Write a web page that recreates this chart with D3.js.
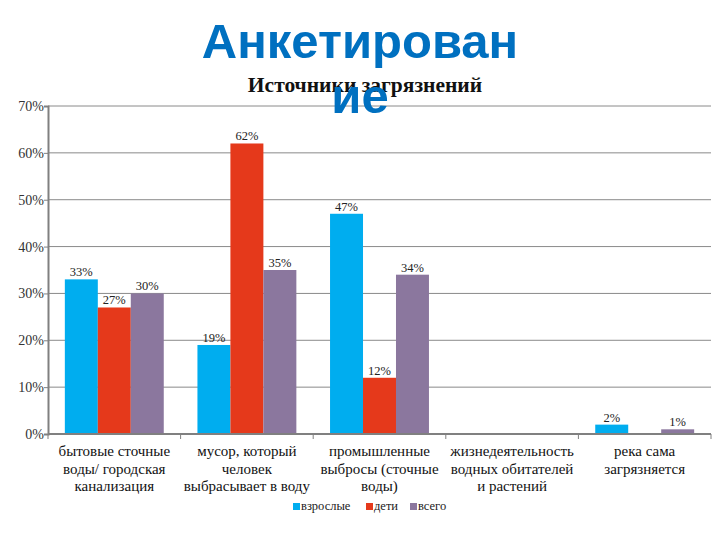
<!DOCTYPE html>
<html><head><meta charset="utf-8">
<script src="https://cdn.jsdelivr.net/npm/d3@7"></script>
<style>body{margin:0;background:#fff} .serif{font-family:"Liberation Serif","Times New Roman","DejaVu Serif",serif}</style>
</head><body>
<svg id="c" width="720" height="540"></svg>
<script>
const categories = [
  ["бытовые сточные","воды/ городская","канализация"],
  ["мусор, который","человек","выбрасывает в воду"],
  ["промышленные","выбросы (сточные","воды)"],
  ["жизнедеятельность","водных обитателей","и растений"],
  ["река сама","загрязняется"]
];
const seriesNames = ["взрослые","дети","всего"];
const adults = [33, 19, 47, 0, 2];
const children = [27, 62, 12, 0, 0];
const total = [30, 35, 34, 0, 1];
const yTicks = [0,10,20,30,40,50,60,70];
const titleLines = ["Анкетирован","ие"];
const chartTitle = "Источники загрязнений";
const colors = ["#00adef","#e5391b","#8b779e"];

const values = [adults, children, total];
const svg = d3.select("#c");
const L = 48, R = 711, T = 106, B = 434;
const catIdx = categories.map((d,i)=>i);
const x0 = d3.scaleBand().domain(catIdx).range([L,R]).padding(0);
const bw = x0.bandwidth();
const x1 = d3.scaleBand().domain(seriesNames).range([bw*0.127, bw*0.873]).padding(0);
const y = d3.scaleLinear().domain([0,70]).range([B,T]);

// gridlines
svg.append("g").selectAll("line").data(yTicks.filter(t=>t>0)).join("line")
  .attr("x1",L).attr("x2",R).attr("y1",d=>y(d)).attr("y2",d=>y(d))
  .attr("stroke","#8a8a8a").attr("stroke-width",1);

// bars
const data = [];
catIdx.forEach(ci=>seriesNames.forEach((s,si)=>data.push({ci,s,si,v:values[si][ci]})));
svg.append("g").selectAll("rect").data(data.filter(d=>d.v>0)).join("rect")
  .attr("x",d=>x0(d.ci)+x1(d.s)).attr("width",x1.bandwidth())
  .attr("y",d=>y(d.v)).attr("height",d=>y(0)-y(d.v))
  .attr("fill",d=>colors[d.si]);

// value labels
svg.append("g").selectAll("text").data(data.filter(d=>d.v>0)).join("text")
  .attr("class","serif")
  .attr("x",d=>x0(d.ci)+x1(d.s)+x1.bandwidth()/2).attr("y",d=>y(d.v)-3)
  .attr("text-anchor","middle").style("font-size","12.5px").attr("fill","#222").text(d=>d.v+"%");

// y axis
const yAxis = d3.axisLeft(y).tickValues(yTicks).tickFormat(d=>d+"%").tickSize(4);
const gy = svg.append("g").attr("transform",`translate(${L},0)`).call(yAxis);
gy.attr("font-family",null).attr("font-size",null);
gy.select(".domain").attr("stroke","#808080").attr("stroke-width",2);
gy.selectAll(".tick line").attr("stroke","#808080");
gy.selectAll(".tick text").attr("class","serif").style("font-size","14px")
  .attr("fill","#333").attr("x",-4);

// x axis line and ticks
svg.append("line").attr("x1",L).attr("x2",R).attr("y1",B).attr("y2",B)
  .attr("stroke","#808080").attr("stroke-width",2);
const bounds = catIdx.map(i=>x0(i)).concat([R]);
svg.append("g").selectAll("line").data(bounds).join("line")
  .attr("x1",d=>d).attr("x2",d=>d).attr("y1",B).attr("y2",B+5)
  .attr("stroke","#808080").attr("stroke-width",1);

// category labels
const cl = svg.append("g").selectAll("text").data(catIdx).join("text")
  .attr("class","serif").attr("text-anchor","middle").style("font-size","15px").attr("fill","#111");
cl.each(function(ci){
  const t = d3.select(this);
  categories[ci].forEach((line,li)=>{
    t.append("tspan").attr("x",x0(ci)+bw/2).attr("y",456+li*17.5).text(line);
  });
});

// legend
const lx = [293, 366, 410];
const lg = svg.append("g").selectAll("g").data(seriesNames).join("g")
  .attr("transform",(d,i)=>`translate(${lx[i]},510)`);
lg.append("rect").attr("x",0).attr("y",-7).attr("width",7).attr("height",7).attr("fill",(d,i)=>colors[i]);
lg.append("text").attr("class","serif").attr("x",8).attr("y",0)
  .style("font-size","12.5px").attr("fill","#222").text(d=>d);

// chart title
svg.append("text").attr("class","serif").attr("x",365).attr("y",92).attr("text-anchor","middle")
  .style("font-weight","bold").style("font-size","21.5px").attr("fill","#111").text(chartTitle);

// slide title
const tt = svg.append("text").attr("text-anchor","middle")
  .style("font-family","'Liberation Sans',Arial,sans-serif").style("font-weight","bold")
  .style("font-size","49px").attr("fill","#0070c0");
titleLines.forEach((l,i)=>tt.append("tspan").attr("x",360).attr("y",58+i*55).text(l));
</script>
</body></html>
